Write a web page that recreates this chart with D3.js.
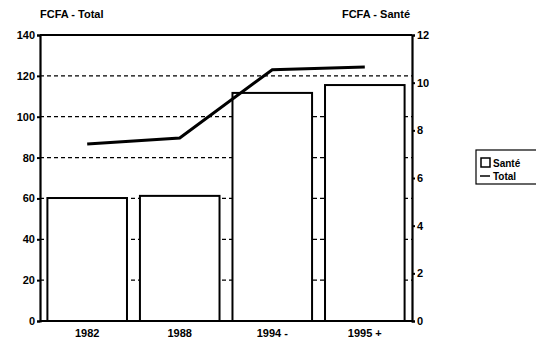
<!DOCTYPE html>
<html>
<head>
<meta charset="utf-8">
<script src="https://cdn.jsdelivr.net/npm/d3@7"></script>
<style>
  html, body { margin: 0; padding: 0; background: #fff; }
  svg { display: block; }
  text { font-family: "Liberation Sans", Arial, sans-serif; font-weight: bold; fill: #000; }
</style>
</head>
<body>
<svg id="chart" width="536" height="344"></svg>
<script>
// Periods on the category axis
const periods = ["1982", "1988", "1994 -", "1995 +"];
// Health spending (FCFA, right axis) shown as bars
const sante = [5.16, 5.25, 9.57, 9.9];
// Total spending (FCFA, left axis) shown as a line
const total = [86.6, 89.6, 123, 124.3];
// Axis ticks
const leftTicks = [0, 20, 40, 60, 80, 100, 120, 140];
const rightTicks = [0, 2, 4, 6, 8, 10, 12];

const svg = d3.select("#chart");
const plotL = 40, plotR = 412, plotT = 35, plotB = 321;

const x = d3.scaleBand().domain(periods).range([plotL, plotR])
  .paddingInner(0.14).paddingOuter(0.08);
const yL = d3.scaleLinear().domain([0, 140]).range([plotB, plotT]);
const yR = d3.scaleLinear().domain([0, 12]).range([plotB, plotT]);

// Dashed horizontal grid on the left scale
svg.append("g").selectAll("line")
  .data(leftTicks.filter(d => d > 0 && d < 140))
  .join("line")
  .attr("x1", plotL).attr("x2", plotR)
  .attr("y1", d => yL(d)).attr("y2", d => yL(d))
  .attr("stroke", "#000").attr("stroke-width", 1.2)
  .attr("stroke-dasharray", "4,3");

// Bars (Santé)
svg.append("g").selectAll("rect")
  .data(sante)
  .join("rect")
  .attr("x", (d, i) => x(periods[i]))
  .attr("width", x.bandwidth())
  .attr("y", d => yR(d))
  .attr("height", d => plotB - yR(d))
  .attr("fill", "#fff")
  .attr("stroke", "#000").attr("stroke-width", 2);

// Line (Total)
const line = d3.line()
  .x((d, i) => x(periods[i]) + x.bandwidth() / 2)
  .y(d => yL(d));
svg.append("path")
  .datum(total)
  .attr("d", line)
  .attr("fill", "none")
  .attr("stroke", "#000").attr("stroke-width", 3);

// Frame: top edge
svg.append("line").attr("x1", plotL).attr("x2", plotR)
  .attr("y1", plotT).attr("y2", plotT)
  .attr("stroke", "#000").attr("stroke-width", 2);

// Axes
const axL = svg.append("g").attr("transform", `translate(${plotL},0)`)
  .call(d3.axisLeft(yL).tickValues(leftTicks).tickSize(3).tickPadding(2));
const axR = svg.append("g").attr("transform", `translate(${plotR},0)`)
  .call(d3.axisRight(yR).tickValues(rightTicks).tickSize(3).tickPadding(2));
const axB = svg.append("g").attr("transform", `translate(0,${plotB})`)
  .call(d3.axisBottom(x).tickSize(0).tickPadding(8));

[axL, axR, axB].forEach(g => {
  g.select(".domain").attr("stroke", "#000").attr("stroke-width", 2.2);
  g.selectAll(".tick line").attr("stroke", "#000").attr("stroke-width", 2);
  g.selectAll("text").attr("font-size", 11).attr("font-family", "Liberation Sans, Arial, sans-serif")
    .attr("font-weight", "bold").attr("fill", "#000");
});
axB.select(".domain").attr("d", `M${plotL},0H${plotR}`);

// Axis titles
svg.append("text").attr("x", 40).attr("y", 18).attr("font-size", 11)
  .text("FCFA - Total");
svg.append("text").attr("x", 410).attr("y", 18).attr("font-size", 11)
  .attr("text-anchor", "end").text("FCFA - Santé");

// Legend
const lg = svg.append("g").attr("transform", "translate(476,150)");
lg.append("rect").attr("x", 0).attr("y", 0).attr("width", 80).attr("height", 34)
  .attr("fill", "#fff").attr("stroke", "#000").attr("stroke-width", 1.2);
lg.append("rect").attr("x", 5).attr("y", 8).attr("width", 9).attr("height", 9)
  .attr("fill", "#fff").attr("stroke", "#000").attr("stroke-width", 1.5);
lg.append("text").attr("x", 17).attr("y", 17).attr("font-size", 10).text("Santé");
lg.append("line").attr("x1", 4).attr("x2", 14).attr("y1", 26).attr("y2", 26)
  .attr("stroke", "#000").attr("stroke-width", 1.5);
lg.append("text").attr("x", 17).attr("y", 30).attr("font-size", 10).text("Total");
</script>
</body>
</html>
